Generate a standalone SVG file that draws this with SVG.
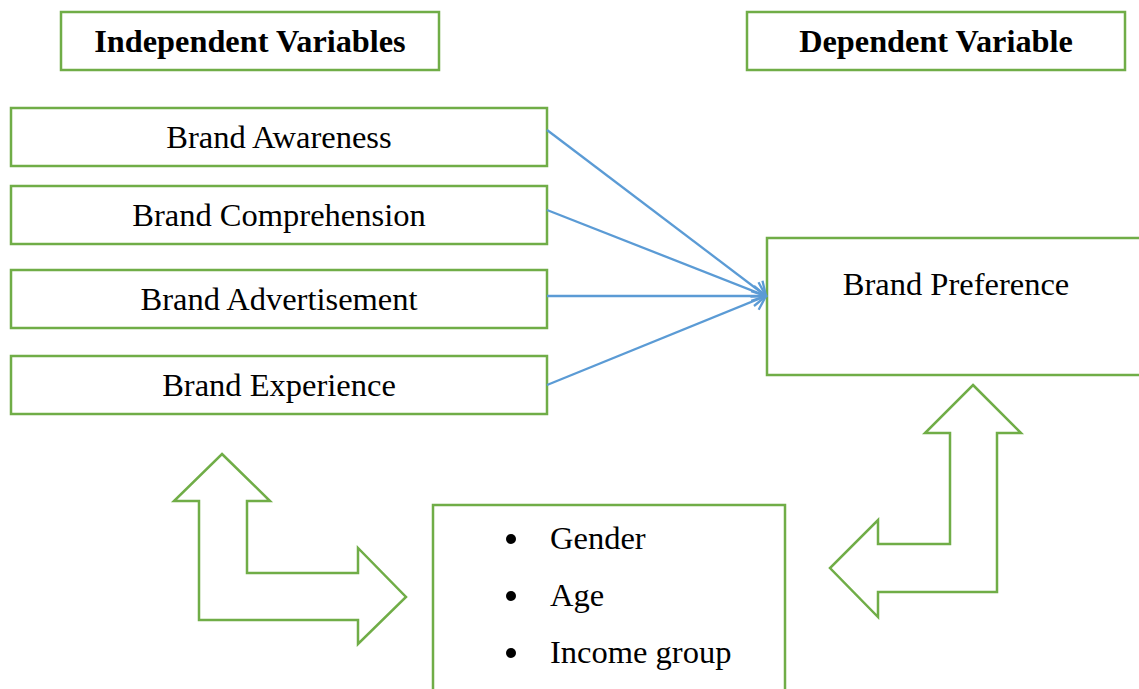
<svg xmlns="http://www.w3.org/2000/svg" width="1139" height="689" viewBox="0 0 1139 689">
<defs>
<style>
.box{fill:#fff;stroke:#70AD47;stroke-width:2.5}
.shape{fill:#fff;stroke:#70AD47;stroke-width:2.5;stroke-linejoin:miter}
.t{font-family:"Liberation Serif","Times New Roman",serif;font-size:32.5px;fill:#000}
.b{font-family:"Liberation Serif","Times New Roman",serif;font-size:32.3px;font-weight:bold;fill:#000}
.c{stroke:#5B9BD5;stroke-width:2.3;fill:none}
</style>
<marker id="arr" markerWidth="20" markerHeight="24" refX="17" refY="12" orient="auto" markerUnits="userSpaceOnUse">
<path d="M5,2 L17,12 L5,22" fill="none" stroke="#5B9BD5" stroke-width="2.3"/>
</marker>
</defs>
<rect width="1139" height="689" fill="#fff"/>
<g id="title-independent">
<rect class="box" x="61" y="12" width="378" height="58"/>
<text class="b" x="250" y="52" text-anchor="middle">Independent Variables</text>
</g>
<g id="title-dependent">
<rect class="box" x="747" y="12" width="378" height="58"/>
<text class="b" x="936" y="52" text-anchor="middle">Dependent Variable</text>
</g>
<g id="brand-awareness">
<rect class="box" x="11" y="108" width="536" height="58"/>
<text class="t" x="279" y="148" text-anchor="middle">Brand Awareness</text>
</g>
<g id="brand-comprehension">
<rect class="box" x="11" y="186" width="536" height="58"/>
<text class="t" x="279" y="226" text-anchor="middle">Brand Comprehension</text>
</g>
<g id="brand-advertisement">
<rect class="box" x="11" y="270" width="536" height="58"/>
<text class="t" x="279" y="310" text-anchor="middle">Brand Advertisement</text>
</g>
<g id="brand-experience">
<rect class="box" x="11" y="356" width="536" height="58"/>
<text class="t" x="279" y="396" text-anchor="middle">Brand Experience</text>
</g>
<g id="brand-preference">
<rect class="box" x="767" y="238" width="380" height="137"/>
<text class="t" x="956" y="295" text-anchor="middle">Brand Preference</text>
</g>
<g id="demographics">
<rect class="box" x="433" y="505" width="352" height="200"/>
<circle cx="511" cy="539" r="5" fill="#000"/>
<circle cx="511" cy="596" r="5" fill="#000"/>
<circle cx="511" cy="653" r="5" fill="#000"/>
<text class="t" x="550" y="549">Gender</text>
<text class="t" x="550" y="606">Age</text>
<text class="t" x="550" y="663">Income group</text>
</g>
<g id="arrow-left">
<polygon class="shape" points="222,454 270,501 247,501 247,573 358,573 358,548 406,597 358,644 358,620 199,620 199,501 174,501"/>
</g>
<g id="arrow-right">
<polygon class="shape" points="973,385 1021,433 997,433 997,592 878,592 878,617 830,568 878,520 878,544 950,544 950,433 925,433"/>
</g>
<g id="connectors">
<line class="c" x1="547" y1="130" x2="766" y2="296" marker-end="url(#arr)"/>
<line class="c" x1="547" y1="210" x2="766" y2="296" marker-end="url(#arr)"/>
<line class="c" x1="547" y1="296" x2="766" y2="296" marker-end="url(#arr)"/>
<line class="c" x1="547" y1="385" x2="766" y2="296" marker-end="url(#arr)"/>
</g>
</svg>
